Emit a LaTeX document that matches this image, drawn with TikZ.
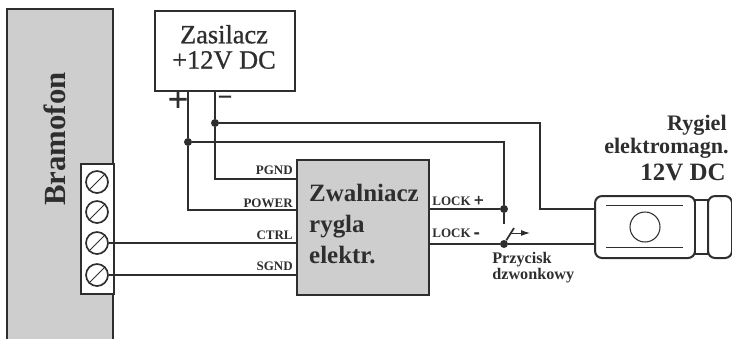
\documentclass[tikz,border=0pt]{standalone}
\usepackage{fontspec}
\setmainfont{Liberation Serif}
\newfontfamily\heavyserif[FakeBold=0.8]{Liberation Serif}
\newfontfamily\signserif[FakeBold=3]{Liberation Serif}
\usetikzlibrary{arrows.meta}

\definecolor{wire}{HTML}{2E2E2E}
\definecolor{panel}{HTML}{CECECE}

\tikzset{
  conductor/.style={draw=wire, line width=1.15pt},
  block/.style={draw=wire, line width=1.15pt, inner sep=0pt, anchor=north west},
  screw/.style={circle, draw=wire, line width=0.95pt, fill=white, inner sep=0pt, minimum size=22*0.02cm},
  junction/.style={circle, fill=wire, inner sep=0pt, minimum size=8*0.02cm},
  pinlabel/.style={font=\fontsize{7.4}{8}\selectfont\bfseries, text=wire, inner sep=0pt},
  thinline/.style={draw=wire, line width=0.55pt}
}

\newcommand{\bigsign}[1]{{\fontsize{9.5}{8}\signserif #1}}

\begin{document}
\begin{tikzpicture}[x=0.02cm, y=-0.02cm]

    \useasboundingbox (0,0) rectangle (732,339);

    \fill[panel] (7,9) rectangle (113,339);
    \draw[conductor] (7,339) -- (7,9) -- (113,9) -- (113,339);

    \node[rotate=90, font=\fontsize{17.5}{20}\selectfont\bfseries, text=wire] (bramofon) at (55,139) {Bramofon};


    \node[block, fill=white, minimum width=33*0.02cm, minimum height=130*0.02cm] (terminal) at (80,163) {};

    \foreach \n/\y in {1/182, 2/212, 3/243, 4/275} {
      \node[screw] (s\n) at (97,\y) {};
      \draw[thinline] (s\n.225) -- (s\n.45);
    }


    \node[block, fill=white, minimum width=140*0.02cm, minimum height=80*0.02cm] (zasilacz) at (154,10) {};

    \node[align=center, font=\fontsize{15}{14.4}\selectfont\heavyserif, text=wire] (zasilacztext) at (224,47) {Zasilacz\\+12V DC};

    \node[inner sep=0pt, font=\fontsize{20}{20}\signserif, text=wire] (plus) at (178,101) {+};

    \node[inner sep=0pt, font=\fontsize{13}{13}\signserif, text=wire] (minus) at (225,99) {–};


    \node[block, fill=panel, minimum width=132*0.02cm, minimum height=135*0.02cm] (zwalniacz) at (296,159) {};

    \node[align=left, anchor=west, font=\fontsize{14.2}{17.6}\selectfont\bfseries, text=wire] (zwalniacztext) at (303,224) {Zwalniacz\\rygla\\elektr.};


    \node[junction] (plusjoin) at (188,142) {};

    \node[junction] (minusjoin) at (215,123) {};

    \node[junction] (lockplus) at (504,209) {};

    \node[junction] (lockminus) at (504,244) {};

    \coordinate (pgnd) at (296,179);
    \coordinate (power) at (296,210);
    \coordinate (contact) at (504,224);
    \coordinate (bladeend) at (514,228);
    \coordinate (bendtop) at (540,123);


    \draw[conductor] (zasilacz.south -| plusjoin) -- (plusjoin) -- (plusjoin |- power) -- (power);

    \draw[conductor] (zasilacz.south -| minusjoin) -- (minusjoin) -- (minusjoin |- pgnd) -- (pgnd);

    \draw[conductor] (plusjoin) -- (plusjoin -| lockplus) -- (lockplus) -- (contact);

    \draw[conductor] (s3.east) -- (s3.east -| zwalniacz.west);

    \draw[conductor] (s4.east) -- (s4.east -| zwalniacz.west);

    \draw[conductor] (zwalniacz.east |- lockplus) -- (lockplus);


    \node[pinlabel, anchor=east] (pgndlabel) at (293,170) {PGND};

    \node[pinlabel, anchor=east] (powerlabel) at (293,203) {POWER};

    \node[pinlabel, anchor=east] (ctrllabel) at (293,235) {CTRL};

    \node[pinlabel, anchor=east] (sgndlabel) at (293,266) {SGND};

    \node[pinlabel, anchor=west] (lockpluslabel) at (432,201) {LOCK \bigsign{+}};

    \node[pinlabel, anchor=west] (lockminuslabel) at (432,233) {LOCK \bigsign{-}};


    \draw[conductor, line width=1pt] (lockminus) -- (bladeend);

    \draw[thinline, -{Latex[length=9*0.02cm, width=6*0.02cm]}] (510,233) -- (530,233);

    \node[align=left, anchor=north west, inner sep=0pt, font=\fontsize{9.2}{9.2}\selectfont\bfseries, text=wire] (przycisk) at (492,252) {Przycisk\\dzwonkowy};


    \node[block, fill=white, rounded corners=4pt, minimum width=100*0.02cm, minimum height=62*0.02cm] (rygiel) at (594,195) {};

    \node[block, fill=white, minimum width=13*0.02cm, minimum height=54*0.02cm] (neck) at (694,199) {};

    \node[block, fill=white, rounded corners=4pt, minimum width=24*0.02cm, minimum height=62*0.02cm] (endcap) at (707,195) {};

    \node[circle, draw=wire, line width=0.6pt, inner sep=0pt, minimum size=30*0.02cm] (bolt) at (645,227) {};

    \draw[thinline] (606,205) -- (683,205);

    \draw[thinline] (606,247) -- (683,247);


    \draw[conductor] (minusjoin) -- (bendtop) -- (bendtop |- lockplus) -- (bendtop |- lockplus -| rygiel.west);

    \draw[conductor] (zwalniacz.east |- lockminus) -- (lockminus) -- (lockminus -| rygiel.west);


    \node[anchor=east, inner sep=0pt, font=\fontsize{12.6}{14}\selectfont\bfseries, text=wire] (ryglabel) at (727,125) {Rygiel};

    \node[anchor=east, inner sep=0pt, font=\fontsize{12.6}{14}\selectfont\bfseries, text=wire] (magnlabel) at (729,148) {elektromagn.};

    \node[anchor=east, inner sep=0pt, font=\fontsize{14.2}{16}\selectfont\bfseries, text=wire] (voltlabel) at (726,172) {12V DC};

\end{tikzpicture}
\end{document}
